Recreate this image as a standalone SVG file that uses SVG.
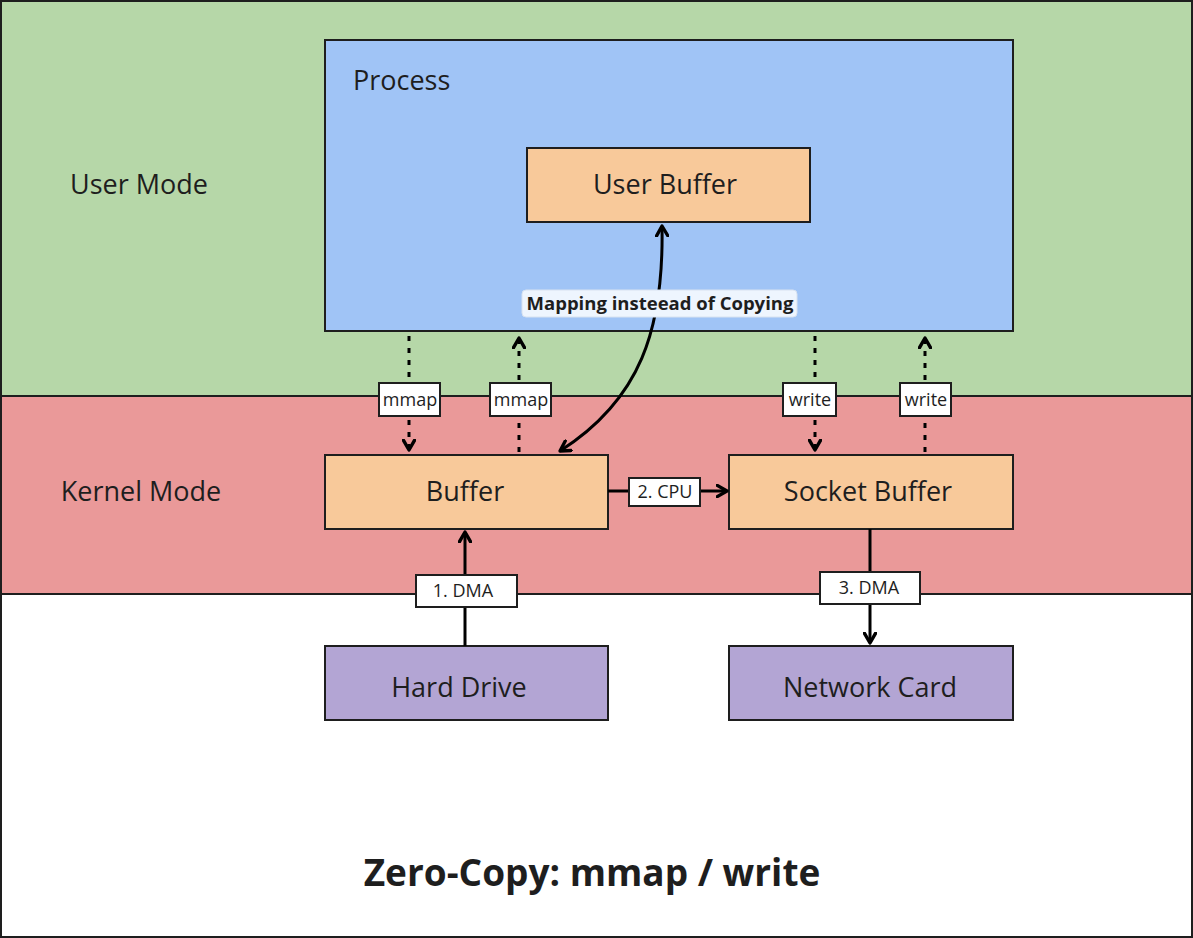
<svg xmlns="http://www.w3.org/2000/svg" width="1193" height="938" viewBox="0 0 1193 938">
<style>
.zone{stroke:#1e1e1e;stroke-width:2}
.box{stroke:#1e1e1e;stroke-width:2}
.buf{fill:#f8c99a}
.dev{fill:#b3a5d4}
.t{font-family:"Open Sans",Lato,sans-serif;fill:#1e1e1e}
.big{font-size:27px}
.lbl{font-size:18px}
.lb{fill:#ffffff;stroke:#1e1e1e;stroke-width:2}
.c{fill:none;stroke:#000;stroke-width:3}
.d{fill:none;stroke:#000;stroke-width:3;stroke-dasharray:5 7}
</style>
<defs>
<marker id="ao" viewBox="0 0 10 10" refX="8" refY="5" markerWidth="14" markerHeight="14" orient="auto-start-reverse" markerUnits="userSpaceOnUse">
<path d="M1,1 L8,5 L1,9" fill="none" stroke="#000" stroke-width="2.4" stroke-linecap="round" stroke-linejoin="round"/>
</marker>
</defs>
<g id="background">
<rect x="1" y="1" width="1191" height="936" fill="#ffffff" class="zone"/>
<rect x="1" y="1" width="1191" height="395" fill="#b6d7a8" class="zone"/>
<rect x="1" y="396" width="1191" height="198" fill="#ea9999" class="zone"/>
</g>
<g id="user-mode"><text class="t big" x="139" y="194" text-anchor="middle">User Mode</text></g>
<g id="kernel-mode"><text class="t big" x="141" y="501" text-anchor="middle">Kernel Mode</text></g>
<g id="process">
<rect x="325" y="40" width="688" height="291" fill="#a0c4f6" class="box"/>
<text class="t big" x="353" y="90">Process</text>
</g>
<g id="user-buffer">
<rect x="527" y="148" width="283" height="74" class="box buf"/>
<text class="t big" x="665" y="194" text-anchor="middle">User Buffer</text>
</g>
<g id="buffer">
<rect x="325" y="455" width="283" height="74" class="box buf"/>
<text class="t big" x="465" y="501" text-anchor="middle">Buffer</text>
</g>
<g id="socket-buffer">
<rect x="729" y="455" width="284" height="74" class="box buf"/>
<text class="t big" x="868" y="501" text-anchor="middle">Socket Buffer</text>
</g>
<g id="hard-drive">
<rect x="325" y="646" width="283" height="74" class="box dev"/>
<text class="t big" x="459" y="697" text-anchor="middle">Hard Drive</text>
</g>
<g id="network-card">
<rect x="729" y="646" width="284" height="74" class="box dev"/>
<text class="t big" x="870" y="697" text-anchor="middle">Network Card</text>
</g>
<g id="connectors">
<path class="d" d="M409 336 L409 450" marker-end="url(#ao)"/>
<path class="d" d="M519 452 L519 338" marker-end="url(#ao)"/>
<path class="d" d="M815 336 L815 450" marker-end="url(#ao)"/>
<path class="d" d="M925 452 L925 338" marker-end="url(#ao)"/>
<path class="c" d="M608 491 L727 491" marker-end="url(#ao)"/>
<path class="c" d="M465 646 L465 532" marker-end="url(#ao)"/>
<path class="c" d="M870 529 L870 643" marker-end="url(#ao)"/>
<path class="c" d="M662 226 C664 330 640 400 560 451" marker-start="url(#ao)" marker-end="url(#ao)"/>
<rect x="379" y="383" width="61" height="33" class="lb"/>
<text class="t lbl" x="410" y="406" text-anchor="middle">mmap</text>
<rect x="490" y="383" width="61" height="33" class="lb"/>
<text class="t lbl" x="521" y="406" text-anchor="middle">mmap</text>
<rect x="783" y="383" width="53" height="33" class="lb"/>
<text class="t lbl" x="810" y="406" text-anchor="middle">write</text>
<rect x="900" y="383" width="51" height="33" class="lb"/>
<text class="t lbl" x="926" y="406" text-anchor="middle">write</text>
<rect x="629" y="478" width="71" height="28" class="lb"/>
<text class="t lbl" x="665" y="498" text-anchor="middle">2. CPU</text>
<rect x="416" y="575" width="101" height="32" class="lb"/>
<text class="t lbl" x="463" y="597" text-anchor="middle">1. DMA</text>
<rect x="820" y="572" width="100" height="32" class="lb"/>
<text class="t lbl" x="869" y="594" text-anchor="middle">3. DMA</text>
<rect x="522" y="290" width="275" height="27" rx="4" fill="#eef5fe" stroke="#d8e2f0" stroke-width="1"/>
<text class="t" x="660" y="310" text-anchor="middle" font-weight="bold" font-size="18.5">Mapping insteead of Copying</text>
</g>
<g id="title"><text class="t" x="592" y="886" text-anchor="middle" font-size="37" font-weight="bold">Zero-Copy: mmap / write</text></g>
</svg>
